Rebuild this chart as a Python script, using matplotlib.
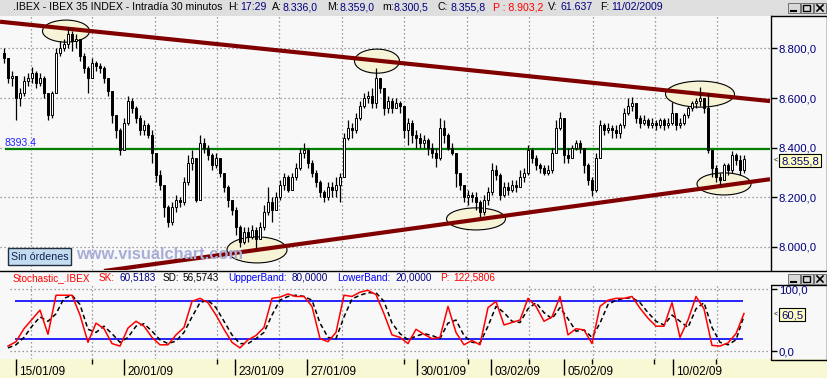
import numpy as np
import matplotlib.pyplot as plt
from matplotlib.patches import Ellipse, Rectangle

plt.rcParams['font.family'] = ['Liberation Sans', 'DejaVu Sans']

# ---- data (30 min IBEX, one value per bar) ----
close = [8760, 8680, 8690, 8600, 8620, 8670, 8680, 8700, 8660, 8680,
         8620, 8530, 8620, 8780, 8800, 8820, 8860, 8830, 8840, 8770,
         8720, 8680, 8740, 8730, 8720, 8680, 8630, 8530, 8470, 8390,
         8500, 8590, 8560, 8520, 8470, 8490, 8450, 8380, 8290, 8250,
         8160, 8100, 8160, 8190, 8180, 8260, 8340, 8360, 8190, 8420,
         8400, 8370, 8330, 8360, 8300, 8240, 8190, 8150, 8080, 8020,
         8060, 8040, 8070, 8030, 8080, 8140, 8180, 8150, 8200, 8250,
         8280, 8230, 8280, 8320, 8380, 8390, 8340, 8300, 8260, 8220,
         8200, 8240, 8230, 8250, 8280, 8440, 8480, 8470, 8520, 8570,
         8600, 8610, 8580, 8680, 8640, 8560, 8590, 8560, 8580, 8570,
         8470, 8500, 8450, 8440, 8420, 8430, 8400, 8380, 8360, 8480,
         8450, 8400, 8380, 8300, 8250, 8200, 8210, 8200, 8180, 8140,
         8190, 8220, 8310, 8290, 8210, 8240, 8230, 8250, 8240, 8280,
         8300, 8390, 8360, 8330, 8320, 8300, 8310, 8380, 8480, 8520,
         8370, 8360, 8400, 8420, 8400, 8330, 8270, 8230, 8360, 8490,
         8470, 8480, 8470, 8460, 8490, 8540, 8570, 8580, 8520, 8500,
         8510, 8490, 8500, 8490, 8510, 8490, 8500, 8540, 8490, 8500,
         8530, 8560, 8580, 8590, 8600, 8560, 8390, 8320, 8280, 8270,
         8330, 8310, 8370, 8350, 8310, 8355.8]
high = [8804, 8760, 8710, 8690, 8640, 8690, 8700, 8724, 8710, 8700,
        8690, 8620, 8630, 8800, 8830, 8840, 8885, 8870, 8860, 8840,
        8780, 8730, 8760, 8750, 8740, 8730, 8680, 8630, 8530, 8480,
        8520, 8610, 8600, 8570, 8530, 8510, 8500, 8470, 8380, 8310,
        8250, 8170, 8180, 8210, 8200, 8280, 8370, 8390, 8360, 8450,
        8440, 8410, 8380, 8380, 8360, 8300, 8250, 8190, 8160, 8090,
        8080, 8080, 8090, 8080, 8100, 8170, 8240, 8200, 8220, 8270,
        8300, 8290, 8300, 8340, 8400, 8420, 8400, 8350, 8310, 8270,
        8230, 8260, 8260, 8280, 8300, 8460, 8510, 8500, 8540, 8590,
        8620, 8630, 8640, 8720, 8680, 8640, 8610, 8600, 8600, 8590,
        8570, 8520, 8510, 8470, 8460, 8450, 8440, 8420, 8400, 8520,
        8510, 8460, 8420, 8320, 8300, 8250, 8230, 8220, 8220, 8190,
        8210, 8240, 8340, 8330, 8300, 8260, 8260, 8270, 8270, 8310,
        8320, 8410, 8400, 8370, 8340, 8330, 8330, 8400, 8510, 8545,
        8420, 8400, 8410, 8430, 8430, 8400, 8340, 8280, 8380, 8510,
        8500, 8500, 8490, 8490, 8500, 8560, 8600, 8605, 8580, 8530,
        8530, 8520, 8520, 8510, 8520, 8520, 8520, 8584, 8530, 8520,
        8540, 8570, 8590, 8600, 8644, 8600, 8620, 8360, 8330, 8300,
        8340, 8340, 8385, 8380, 8370, 8370]
low = [8740, 8660, 8650, 8512, 8570, 8610, 8650, 8660, 8640, 8650,
       8600, 8512, 8520, 8740, 8770, 8790, 8800, 8790, 8800, 8750,
       8700, 8620, 8700, 8710, 8700, 8660, 8610, 8500, 8440, 8370,
       8390, 8490, 8540, 8500, 8450, 8450, 8440, 8340, 8260, 8230,
       8120, 8080, 8090, 8140, 8160, 8170, 8250, 8310, 8180, 8190,
       8380, 8350, 8310, 8320, 8280, 8220, 8160, 8130, 8050, 8000,
       8010, 8020, 8030, 7995, 8030, 8070, 8130, 8100, 8150, 8190,
       8230, 8220, 8240, 8270, 8310, 8360, 8320, 8280, 8240, 8200,
       8180, 8190, 8200, 8200, 8180, 8280, 8430, 8440, 8460, 8510,
       8560, 8580, 8560, 8560, 8620, 8530, 8540, 8540, 8560, 8540,
       8440, 8410, 8420, 8400, 8400, 8400, 8370, 8360, 8324, 8350,
       8420, 8390, 8370, 8240, 8230, 8180, 8170, 8180, 8150, 8120,
       8130, 8170, 8210, 8270, 8190, 8200, 8210, 8220, 8220, 8250,
       8260, 8290, 8340, 8310, 8300, 8290, 8290, 8300, 8380, 8470,
       8340, 8340, 8360, 8390, 8380, 8300, 8250, 8204, 8220, 8360,
       8450, 8460, 8440, 8440, 8440, 8480, 8530, 8550, 8500, 8480,
       8490, 8480, 8480, 8470, 8480, 8470, 8480, 8490, 8470, 8480,
       8490, 8520, 8550, 8560, 8570, 8540, 8380, 8280, 8260, 8250,
       8270, 8290, 8300, 8330, 8290, 8300]
first_open = 8780
ref_level = 8393.4

# trend lines: (bar, price) end points
upper_line = ([-1, 191.5], [8908, 8588])
lower_line = ([25, 191.5], [7903, 8273])
# marked zones: centre bar, centre price, width (bars), height (points)
zones = [(15.5, 8870, 11.75, 89), (93.25, 8749, 11.25, 97),
         (174, 8616, 17.25, 105), (63.25, 7988, 15, 105),
         (118, 8113, 14.75, 89), (180, 8254, 13.5, 89)]

# stochastic, one value every second bar
sk = [8, 15, 36, 51, 66, 27, 90, 90, 90, 58,
      14, 45, 36, 12, 8, 37, 48, 40, 22, 10,
      10, 26, 38, 80, 85, 78, 58, 35, 14, 5,
      18, 25, 38, 85, 87, 92, 88, 88, 72, 20,
      15, 30, 90, 88, 95, 98, 91, 60, 26, 22,
      12, 35, 27, 20, 22, 72, 30, 10, 17, 10,
      70, 80, 42, 46, 50, 85, 72, 48, 55, 88,
      26, 36, 34, 12, 72, 82, 85, 85, 88, 69,
      53, 40, 40, 78, 22, 50, 88, 68, 9, 8,
      13, 28, 60.5]
sd = [5, 10, 22, 40, 55, 48, 60, 85, 90, 75,
      35, 30, 40, 28, 14, 22, 40, 44, 32, 18,
      12, 16, 30, 55, 78, 82, 70, 48, 26, 12,
      12, 20, 30, 58, 82, 88, 90, 88, 82, 45,
      22, 20, 55, 84, 90, 94, 94, 80, 45, 28,
      18, 24, 28, 25, 20, 45, 50, 25, 14, 13,
      40, 72, 62, 48, 46, 68, 78, 62, 52, 70,
      52, 32, 34, 22, 45, 75, 82, 85, 86, 78,
      62, 48, 42, 58, 48, 38, 68, 78, 38, 14,
      10, 18, 56.6]
upper_band, lower_band = 80, 20

date_labels = ['15/01/09', '20/01/09', '23/01/09', '27/01/09',
               '30/01/09', '03/02/09', '05/02/09', '10/02/09']
date_bars = [3, 30, 57.75, 75.75, 103.25, 121.75, 140, 167.25]
minor_bars = [22, 53.25, 100, 116, 131.25, 147, 162.5, 178]
grid_bars = [6.75, 22, 37.75, 53.25, 68.75, 84.5, 100, 115.75,
             131.25, 147.25, 162.75, 178.25]
price_ticks = [8000, 8200, 8400, 8600, 8800]

# ---- layout helpers (pixel boxes) ----
W, H = 828, 378
NAVY = '#000080'
DOT = (0, (1, 2.2))


def box(x0, y0, x1, y1):
    return [x0 / W, 1 - y1 / H, (x1 - x0) / W, (y1 - y0) / H]


def es(v):
    s = f'{v:,.1f}'
    return s.replace(',', 'X').replace('.', ',').replace('X', '.')


fig = plt.figure(figsize=(W / 100, H / 100), dpi=100, facecolor='#f8f8f8')

bg = fig.add_axes([0, 0, 1, 1], zorder=0)
bg.set_xlim(0, W)
bg.set_ylim(H, 0)
bg.axis('off')
bg.add_patch(Rectangle((0, 0), W, 16, fc='#dedede', ec='none'))
bg.add_patch(Rectangle((0, 359), W, 19, fc='#f8f8d4', ec='none'))
bg.plot([771, 828], [16, 16], color='black', lw=1)
bg.plot([827, 827], [16, 270], color='black', lw=1)
bg.plot([0, 828], [270.5, 270.5], color='black', lw=1)
bg.add_patch(Rectangle((771, 285), 56, 75, fc='none', ec='black', lw=1))

# window buttons
for by in (3, 274):
    for k, bx in enumerate((788, 801, 814)):
        bg.add_patch(Rectangle((bx, by), 12, 10, fc='#d8d8d8', ec='#707070', lw=0.7))
        if k == 0:
            bg.plot([bx + 3, bx + 8], [by + 7.5, by + 7.5], color='black', lw=1.5)
        elif k == 1:
            bg.add_patch(Rectangle((bx + 2.5, by + 2), 7, 6, fc='none', ec='black', lw=1))
        else:
            bg.plot([bx + 3, bx + 9], [by + 2, by + 8], color='black', lw=1.2)
            bg.plot([bx + 3, bx + 9], [by + 8, by + 2], color='black', lw=1.2)

# header texts
head = [(13, '.IBEX - IBEX 35 INDEX - Intradía 30 minutos', 'black'),
        (228, 'H:', 'black'), (240, '17:29', NAVY),
        (272, 'A:', 'black'), (283, '8.336,0', NAVY),
        (327, 'M:', 'black'), (340, '8.359,0', NAVY),
        (382, 'm:', 'black'), (394, '8.300,5', NAVY),
        (438, 'C:', 'black'), (451, '8.355,8', NAVY),
        (493, 'P : 8.903,2', '#ff0000'),
        (548, 'V:', 'black'), (561, '61.637', NAVY),
        (600, 'F:', 'black'), (611, '11/02/2009', NAVY)]
for x, s, c in head:
    bg.text(x, 7.5, s, color=c, fontsize=7.6, va='center', ha='left')

stoch_head = [(13, 'Stochastic_.IBEX', '#ff0000'), (99, 'SK:', '#ff0000'),
              (120, '60,5183', NAVY), (163, 'SD:', 'black'),
              (183, '56,5743', 'black'), (228, 'UppperBand:', '#0000ff'),
              (292, '80,0000', NAVY), (337, 'LowerBand:', '#0000ff'),
              (395, '20,0000', NAVY), (440, 'P:', '#ff0000'),
              (453, '122,5806', '#ff0000')]
for x, s, c in stoch_head:
    bg.text(x, 278, s, color=c, fontsize=7.2, va='center', ha='left')

x_left, x_right = -1, 191.75

# ---- price pane ----
ax = fig.add_axes(box(0, 16, 771, 270), zorder=1)
ax.set_facecolor('#f8f8f8')
ax.set_xlim(x_left, x_right)
ax.set_ylim(7907, 8931)
for p in price_ticks:
    ax.axhline(p, color='#808080', lw=0.9, ls=DOT, zorder=0.5)
for g in grid_bars:
    ax.axvline(g, color='#808080', lw=0.9, ls=DOT, zorder=0.5)

for cx, cy, w, h in zones:
    ax.add_patch(Ellipse((cx, cy), w, h, fc='#f6f3d6', ec='black', lw=0.8, zorder=1))

ax.hlines(ref_level, 0.25, 191.5, color='#008000', lw=1.6, zorder=2)
ax.plot(*upper_line, color='#800000', lw=3.0, solid_capstyle='butt', zorder=2)
ax.plot(*lower_line, color='#800000', lw=3.0, solid_capstyle='butt', zorder=2)

bars = np.arange(len(close))
opens = np.array([first_open] + close[:-1])
closes = np.array(close)
ax.vlines(bars, low, high, color='black', lw=0.9, zorder=3)
up = closes >= opens
ax.bar(bars[up], closes[up] - opens[up], bottom=opens[up], width=0.72,
       color='white', edgecolor='black', lw=0.7, zorder=4)
ax.bar(bars[~up], closes[~up] - opens[~up], bottom=opens[~up], width=0.72,
       color='black', edgecolor='black', lw=0.7, zorder=4)

ax.yaxis.tick_right()
ax.set_yticks(price_ticks, [es(p) for p in price_ticks])
ax.tick_params(axis='y', length=4, width=1, pad=1.5, labelsize=8.2,
               labelcolor=NAVY, colors='black')
ax.tick_params(axis='y', labelcolor=NAVY)
ax.set_xticks([])
for side in ('top', 'left', 'bottom'):
    ax.spines[side].set_visible(False)
ax.spines['right'].set_linewidth(1)

# ---- stochastic pane ----
st = fig.add_axes(box(0, 285, 771, 359), zorder=1)
st.set_facecolor('#f8f8f8')
st.set_xlim(x_left, x_right)
st.set_ylim(-12.9, 106.5)
for v in (0, 100):
    st.hlines(v, 1.5, 191.5, color='#808080', lw=0.9, ls=DOT)
for g in grid_bars:
    st.axvline(g, color='#808080', lw=0.9, ls=DOT, zorder=0.5)
st.hlines([upper_band, lower_band], 2.75, 184.75, color='#0000ff', lw=1.2)
sx = np.arange(1, 186, 2)
st.plot(sx, sd, color='black', lw=1.1, ls=(0, (3, 2)))
st.plot(sx, sk, color='#ff0000', lw=1.1)
st.yaxis.tick_right()
st.set_yticks([0, 100], ['0,0', '100,0'])
st.tick_params(axis='y', length=4, width=1, pad=1.5, labelsize=8.2,
               labelcolor=NAVY, colors='black')
st.tick_params(axis='y', labelcolor=NAVY)
st.set_xticks([])
for side in ('top', 'left', 'bottom'):
    st.spines[side].set_visible(False)

# ---- date strip ----
dt = fig.add_axes(box(0, 359, 771, 378), zorder=1)
dt.set_xlim(x_left, x_right)
dt.set_ylim(0, 1)
dt.axis('off')
dt.vlines(date_bars, 0.17, 1, color='black', lw=1)
dt.vlines(minor_bars, 0.72, 1, color='black', lw=1)
for b, s in zip(date_bars, date_labels):
    dt.text(b + 0.8, 0.3, s, fontsize=8.5, ha='left', va='center', color='black')

# ---- overlays ----
ov = fig.add_axes([0, 0, 1, 1], zorder=3)
ov.set_xlim(0, W)
ov.set_ylim(H, 0)
ov.axis('off')
ov.patch.set_alpha(0)
ov.text(5, 143, '8393.4', color='#2020ff', fontsize=7.5, va='center', ha='left')
ov.text(76, 254.5, 'www.visualchart.com', color='#a6aed8', fontsize=11.8,
        fontweight='bold', va='center', ha='left')
ov.add_patch(Rectangle((8, 248), 63, 17, fc='#c4dcf0', ec='#203040', lw=1))
ov.text(39.5, 256.5, 'Sin órdenes', color='#102050', fontsize=7.7,
        ha='center', va='center')

# last-value boxes on the right scale
for (x0, y0, x1, y1), s in (((779, 154, 821, 167), es(close[-1])),
                            ((779, 308, 805, 321), es(sk[-1]))):
    ov.add_patch(Rectangle((x0, y0), x1 - x0, y1 - y0, fc='#ffffc0', ec='black', lw=0.8))
    ov.text((x0 + x1) / 2, (y0 + y1) / 2 + 0.5, s, color=NAVY, fontsize=8.2,
            ha='center', va='center')
    ov.text(776, (y0 + y1) / 2, '<', color='black', fontsize=5, ha='center', va='center')

fig.savefig('out.png', dpi=100, facecolor=fig.get_facecolor())
